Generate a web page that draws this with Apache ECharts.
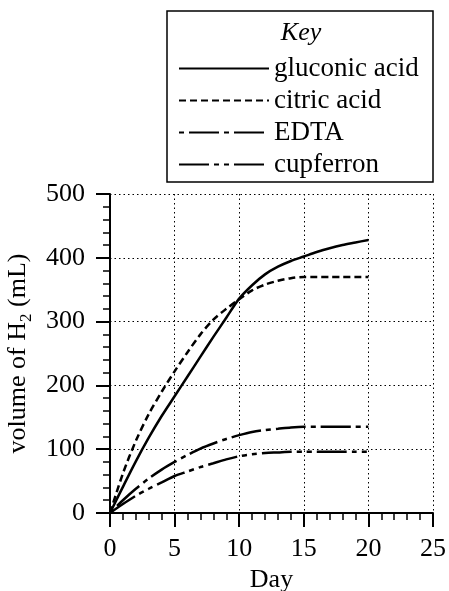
<!DOCTYPE html>
<html>
<head>
<meta charset="utf-8">
<style>
  html, body { margin: 0; padding: 0; background: #fff; }
  #chart { width: 449px; height: 591px; }
</style>
<script src="https://cdn.jsdelivr.net/npm/echarts@6/dist/echarts.min.js"></script>
</head>
<body>
<div id="chart"></div>
<script>
const days = [0, 1, 2, 3, 4, 5, 6, 7, 8, 9, 10, 11, 12, 13, 14, 15, 16, 17, 18, 19, 20];
const seriesNames = ['gluconic acid', 'citric acid', 'EDTA', 'cupferron'];
const gluconic = [0, 41, 81, 118, 152, 183, 214, 245, 276, 306, 336, 357, 374, 386, 395, 402, 409, 415, 420, 424, 428];
const citric = [0, 62, 113, 155, 190, 222, 252, 280, 303, 320, 335, 349, 358, 364, 368, 370, 370, 370, 370, 370, 370];
const edta = [0, 20, 38, 54, 68, 80, 91, 101, 109, 116, 122, 127, 130, 132, 134, 135, 135, 135, 135, 135, 135];
const cupferron = [0, 14, 27, 38, 48, 58, 65, 72, 78, 84, 89, 92, 94, 95, 96, 96, 96, 96, 96, 96, 96];

const serif = 'Liberation Serif';
const dashes = [
  'solid',
  [7, 4],
  [5, 5, 30, 5],
  [30, 5, 5, 5, 5, 5]
];

const pairs = (vals) => days.map((d, i) => [d, vals[i]]);
const makeSeries = (name, vals, dash) => ({
  name,
  type: 'line',
  data: pairs(vals),
  smooth: 0.3,
  symbol: 'none',
  lineStyle: { color: '#000', width: 2.5, type: dash },
  itemStyle: { color: '#000' }
});

const chart = echarts.init(document.getElementById('chart'));
const axisCommon = {
  type: 'value',
  axisLine: { show: true, lineStyle: { color: '#000', width: 2 } },
  axisTick: { show: true, inside: false, length: 14, lineStyle: { color: '#000', width: 2 } },
  minorTick: { show: true, splitNumber: 5, length: 7, lineStyle: { color: '#000', width: 1.5 } },
  splitLine: { show: true, lineStyle: { color: '#000', width: 1, type: [1.5, 3] } },
  axisLabel: { color: '#000', fontFamily: serif, fontSize: 26 }
};

chart.setOption({
  animation: false,
  backgroundColor: '#fff',
  grid: { left: 110, right: 16, top: 194, bottom: 78, outerBoundsMode: 'none' },
  xAxis: Object.assign({}, axisCommon, {
    min: 0, max: 25, interval: 5,
    name: 'Day',
    nameLocation: 'middle',
    nameGap: 54,
    nameTextStyle: { color: '#000', fontFamily: serif, fontSize: 26 },
    axisLabel: Object.assign({}, axisCommon.axisLabel, { margin: 23 })
  }),
  yAxis: Object.assign({}, axisCommon, {
    min: 0, max: 500, interval: 100,
    name: '{a|volume of H}{s|2}{a| (mL)}',
    nameLocation: 'middle',
    nameRotate: 90,
    nameGap: 72,
    nameTextStyle: {
      color: '#000', fontFamily: serif, fontSize: 26,
      rich: {
        a: { fontFamily: serif, fontSize: 26, color: '#000', lineHeight: 30, verticalAlign: 'top' },
        s: { fontFamily: serif, fontSize: 17, color: '#000', lineHeight: 16, verticalAlign: 'bottom' }
      }
    },
    axisLabel: Object.assign({}, axisCommon.axisLabel, { margin: 25 })
  }),
  legend: {
    orient: 'vertical',
    left: 167,
    top: 11,
    padding: [44, 10, 6, 11],
    itemWidth: 90,
    itemHeight: 14,
    itemGap: 5,
    data: seriesNames,
    itemStyle: { opacity: 0 },
    textStyle: { color: '#000', fontFamily: serif, fontSize: 27, lineHeight: 27 }
  },
  graphic: [
    {
      type: 'rect',
      shape: { x: 167, y: 11, width: 266, height: 171 },
      style: { fill: 'none', stroke: '#000', lineWidth: 1.5 }
    },
    {
      type: 'text',
      x: 301,
      y: 33,
      style: {
        text: 'Key', fill: '#000', fontFamily: serif, fontSize: 26, fontStyle: 'italic',
        textAlign: 'center', textVerticalAlign: 'middle'
      }
    }
  ],
  series: [
    makeSeries(seriesNames[0], gluconic, dashes[0]),
    makeSeries(seriesNames[1], citric, dashes[1]),
    makeSeries(seriesNames[2], edta, dashes[2]),
    makeSeries(seriesNames[3], cupferron, dashes[3])
  ]
});
</script>
</body>
</html>
